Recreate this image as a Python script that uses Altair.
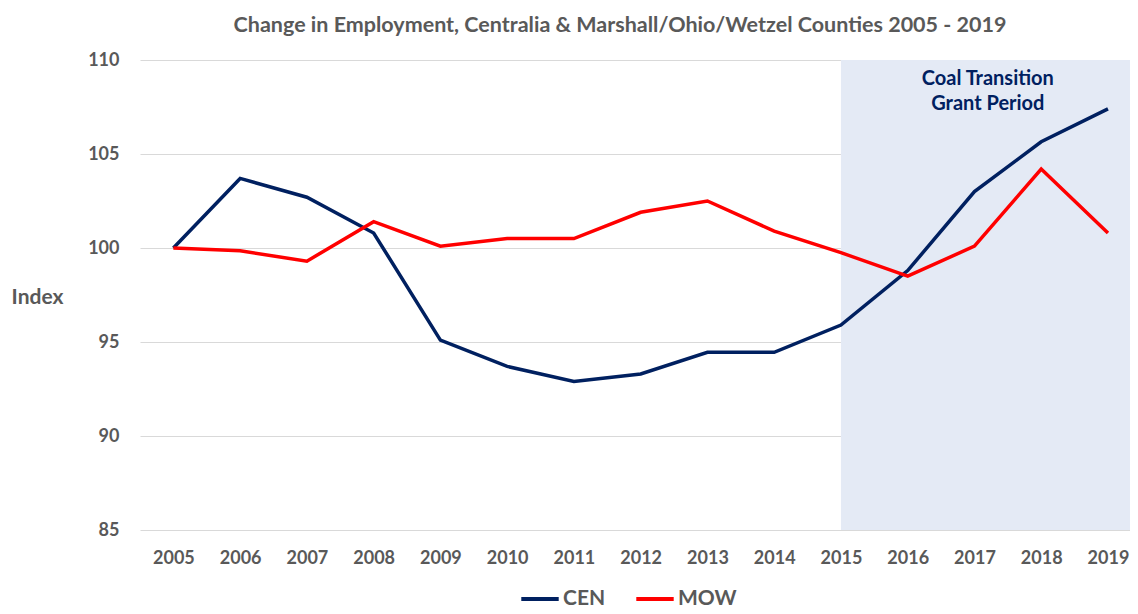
import altair as alt
import pandas as pd

years = list(range(2005, 2020))
cen = [100.0, 103.7, 102.7, 100.8, 95.1, 93.7, 92.9, 93.3, 94.45, 94.45, 95.9, 98.8, 103.0, 105.65, 107.4]
mow = [100.0, 99.85, 99.3, 101.4, 100.1, 100.5, 100.5, 101.9, 102.5, 100.9, 99.75, 98.5, 100.1, 104.2, 100.8]
series_names = ["CEN", "MOW"]
series_colors = ["#002060", "#FF0000"]

grant_start = 2015
x_min, x_max = 2004.5, 2019.33
title_text = "Change in Employment, Centralia & Marshall/Ohio/Wetzel Counties 2005 - 2019"
annot_lines = ["Coal Transition", "Grant Period"]

FONT = "Lato"
GRAY = "#595959"

df = pd.DataFrame(
    [{"year": y, "series": "CEN", "value": v} for y, v in zip(years, cen)]
    + [{"year": y, "series": "MOW", "value": v} for y, v in zip(years, mow)]
)

xscale = alt.Scale(domain=[x_min, x_max], nice=False, zero=False)
yscale = alt.Scale(domain=[85, 110], nice=False, zero=False)

shade = alt.Chart(pd.DataFrame({"x": [grant_start], "x2": [x_max]})).mark_rect(
    color="#E4EAF5"
).encode(
    x=alt.X("x:Q", scale=xscale),
    x2="x2:Q",
    y=alt.value(0),
    y2=alt.value(470),
)

lines = alt.Chart(df).mark_line(strokeWidth=3.5).encode(
    x=alt.X(
        "year:Q",
        scale=xscale,
        axis=alt.Axis(
            values=years, format="d", grid=False, domain=False, ticks=False,
            labelFont=FONT, labelFontSize=18, labelFontWeight="bold", labelColor=GRAY,
            labelPadding=19, title=None, labelFlush=False,
        ),
    ),
    y=alt.Y(
        "value:Q",
        scale=yscale,
        axis=alt.Axis(
            values=[85, 90, 95, 100, 105, 110], grid=True, gridColor="#D9D9D9",
            gridWidth=1, domain=False, ticks=False,
            labelFont=FONT, labelFontSize=18, labelFontWeight="bold", labelColor=GRAY,
            labelPadding=21,
            title="Index", titleAngle=0, titleFont=FONT, titleFontSize=21,
            titleFontWeight="bold", titleColor=GRAY, titleAlign="center",
            titleBaseline="middle", titleX=-103, titleY=237,
        ),
    ),
    color=alt.Color(
        "series:N",
        scale=alt.Scale(domain=series_names, range=series_colors),
        legend=alt.Legend(
            orient="none", direction="horizontal", title=None,
            legendX=379, legendY=518,
            symbolType="stroke", symbolStrokeWidth=4, symbolSize=1400,
            labelFont=FONT, labelFontSize=21, labelFontWeight="bold", labelColor=GRAY,
            labelOffset=2, columnPadding=22,
        ),
    ),
)

annot = alt.Chart(pd.DataFrame({"x": [2017.2], "y": [109.5], "t": [annot_lines]})).mark_text(
    font=FONT, fontSize=20, fontWeight="bold", color="#002060",
    align="center", baseline="top", lineHeight=25,
).encode(
    x=alt.X("x:Q", scale=xscale),
    y=alt.Y("y:Q", scale=yscale),
    text="t",
)

chart = alt.layer(shade, lines, annot).properties(
    width=990,
    height=470,
    padding={"left": 132, "top": 52, "right": 0, "bottom": 80},
    autosize=alt.AutoSizeParams(type="none"),
    title=alt.TitleParams(
        title_text, font=FONT, fontSize=21.5, fontWeight="bold", color=GRAY,
        anchor="middle", dx=-15, offset=15,
    ),
).configure_view(stroke=None)

chart.save("out.html", embed_options={"renderer": "svg", "actions": False})
